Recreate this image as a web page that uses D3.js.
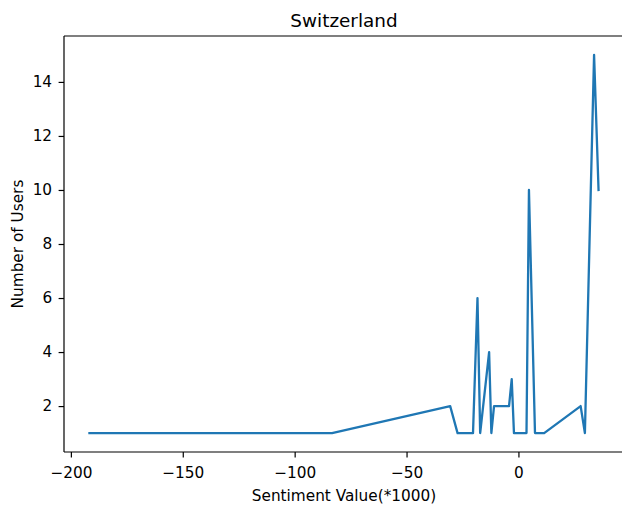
<!DOCTYPE html>
<html>
<head>
<meta charset="utf-8">
<script src="https://cdn.jsdelivr.net/npm/d3@7"></script>
<style>
  html, body { margin: 0; padding: 0; background: #fff; }
  svg { display: block; }
  text { font-family: "DejaVu Sans", sans-serif; fill: #000; }
</style>
</head>
<body>
<svg id="chart" width="622" height="505"></svg>
<script>
// Sentiment (x1000) vs number of users
const sentiment = [-191.7, -83.3, -30.5, -27.2, -20.3, -18.3, -17.1, -13.1, -12.1, -10.9,
                   -4.2, -3.0, -2.0, 3.6, 4.7, 7.4, 11.5, 27.8, 29.7, 33.8, 35.8];
const users     = [1, 1, 2, 1, 1, 6, 1, 4, 1, 2,
                   2, 3, 1, 1, 10, 1, 1, 2, 1, 15, 10];
const xTicks = [-200, -150, -100, -50, 0];
const yTicks = [2, 4, 6, 8, 10, 12, 14];
const titleText = "Switzerland";
const xLabel = "Sentiment Value(*1000)";
const yLabel = "Number of Users";

const svg = d3.select("#chart");
const plot = { left: 64, right: 624, top: 36, bottom: 452 };
const tickFont = "15.3px";

// 5% padding around the data extent on both axes
const xMin = d3.min(sentiment), xMax = d3.max(sentiment);
const xPad = (xMax - xMin) * 0.05;
const yMin = d3.min(users), yMax = d3.max(users);
const yPad = (yMax - yMin) * 0.05;

const x = d3.scaleLinear().domain([xMin - xPad, xMax + xPad]).range([plot.left, plot.right]);
const y = d3.scaleLinear().domain([yMin - yPad, yMax + yPad]).range([plot.bottom, plot.top]);

const points = sentiment.map((s, i) => [s, users[i]]);

// line
svg.append("path")
  .datum(points)
  .attr("fill", "none")
  .attr("stroke", "#1f77b4")
  .attr("stroke-width", 2.3)
  .attr("stroke-linejoin", "round")
  .attr("stroke-linecap", "square")
  .attr("d", d3.line().x(d => x(d[0])).y(d => y(d[1])));

// axes
const xAxis = svg.append("g")
  .attr("transform", `translate(0,${plot.bottom})`)
  .call(d3.axisBottom(x).tickValues(xTicks).tickSizeInner(5.4).tickSizeOuter(0).tickPadding(9.8)
        .tickFormat(d => d < 0 ? "\u2212" + Math.abs(d) : d));
const yAxis = svg.append("g")
  .attr("transform", `translate(${plot.left},0)`)
  .call(d3.axisLeft(y).tickValues(yTicks).tickSizeInner(5.4).tickSizeOuter(0).tickPadding(6.5));

[xAxis, yAxis].forEach(g => {
  g.selectAll("text").style("font-size", tickFont).style("font-family", "'DejaVu Sans', sans-serif").attr("fill", "#000");
  g.selectAll("line").attr("stroke", "#000").attr("stroke-width", 1.2);
  g.select(".domain").attr("stroke", "#000").attr("stroke-width", 1.2);
});

// top and right spines
svg.append("line")
  .attr("x1", plot.left).attr("x2", plot.right)
  .attr("y1", plot.top).attr("y2", plot.top)
  .attr("stroke", "#000").attr("stroke-width", 1.2);
svg.append("line")
  .attr("x1", plot.right).attr("x2", plot.right)
  .attr("y1", plot.top).attr("y2", plot.bottom)
  .attr("stroke", "#000").attr("stroke-width", 1.2);
xAxis.select(".domain").attr("d", `M${plot.left},0H${plot.right}`);
yAxis.select(".domain").attr("d", `M0,${plot.top}V${plot.bottom}`);

// title and labels
svg.append("text")
  .attr("x", (plot.left + plot.right) / 2).attr("y", 26.5)
  .attr("text-anchor", "middle")
  .style("font-size", "18.4px")
  .text(titleText);

svg.append("text")
  .attr("x", (plot.left + plot.right) / 2).attr("y", 500.5)
  .attr("text-anchor", "middle")
  .style("font-size", tickFont)
  .text(xLabel);

svg.append("text")
  .attr("transform", `translate(23,${(plot.top + plot.bottom) / 2}) rotate(-90)`)
  .attr("text-anchor", "middle")
  .style("font-size", tickFont)
  .text(yLabel);
</script>
</body>
</html>
